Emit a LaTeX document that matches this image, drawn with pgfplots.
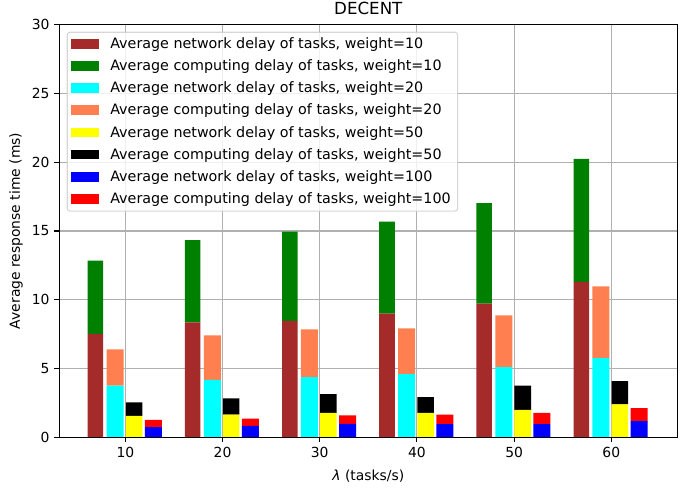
\documentclass[border=0pt]{standalone}
\usepackage{fontspec}
\setmainfont{DejaVu Sans}
\usepackage{pgfplots}
\pgfplotsset{compat=1.18}
\definecolor{cbrown}{HTML}{A52A2A}
\definecolor{cgreen}{HTML}{008000}
\definecolor{ccyan}{HTML}{00FFFF}
\definecolor{ccoral}{HTML}{FF7F50}
\definecolor{cyellow}{HTML}{FFFF00}
\definecolor{cblack}{HTML}{000000}
\definecolor{cblue}{HTML}{0000FF}
\definecolor{cred}{HTML}{FF0000}
\definecolor{gridgray}{HTML}{B0B0B0}
\pgfplotsset{
  base/.style={
    width=445pt, height=297pt, scale only axis,
    xmin=3.2, xmax=66.8, ymin=0, ymax=30,
    /pgf/number format/assume math mode=true,
  },
  hidden/.style={base, hide axis},
}
\begin{document}
\begin{tikzpicture}
\useasboundingbox (-42.7pt,-37.2pt) rectangle (454.1pt,314.8pt);
% weight = 10 (with frame, grid, labels)
\begin{axis}[base,
  ybar stacked, bar width=1.6, bar shift=-3.08,
  axis line style={black, line width=0.8pt},
  grid=major, grid style={gridgray, line width=0.8pt},
  xtick={10,20,30,40,50,60}, ytick={0,5,10,15,20,25,30},
  tick pos=left, tick align=outside,
  major tick length=3.5pt, tick style={black, line width=0.8pt},
  xticklabel style={font=\fontsize{10}{12}\selectfont},
  yticklabel style={font=\fontsize{10}{12}\selectfont},
  every axis title shift=0pt,
  title={DECENT},
  title style={at={(axis description cs:0.5,1)}, anchor=base, yshift=7pt, font=\fontsize{12}{14}\selectfont},
  xlabel={\textit{λ} (tasks/s)},
  xlabel style={at={(axis description cs:0.5,0)}, anchor=center, yshift=-27.9pt, font=\fontsize{10}{12}\selectfont},
  ylabel={Average response time (ms)},
  ylabel style={at={(axis description cs:-0.0701,0.5)}, anchor=center, font=\fontsize{10}{12}\selectfont},
]
\addplot[fill=cbrown, draw=none] coordinates {(10,7.52) (20,8.35) (30,8.47) (40,8.98) (50,9.71) (60,11.29)};
\addplot[fill=cgreen, draw=none] coordinates {(10,5.32) (20,5.98) (30,6.48) (40,6.70) (50,7.31) (60,8.96)};
\end{axis}
% weight = 20
\begin{axis}[hidden, ybar stacked, bar width=1.75, bar shift=-1.06]
\addplot[fill=ccyan, draw=none] coordinates {(10,3.76) (20,4.17) (30,4.37) (40,4.59) (50,5.10) (60,5.75)};
\addplot[fill=ccoral, draw=none] coordinates {(10,2.63) (20,3.24) (30,3.47) (40,3.33) (50,3.76) (60,5.22)};
\end{axis}
% weight = 50
\begin{axis}[hidden, ybar stacked, bar width=1.7, bar shift=0.89]
\addplot[fill=cyellow, draw=none] coordinates {(10,1.55) (20,1.65) (30,1.77) (40,1.77) (50,1.99) (60,2.38)};
\addplot[fill=cblack, draw=none] coordinates {(10,0.98) (20,1.17) (30,1.36) (40,1.14) (50,1.77) (60,1.70)};
\end{axis}
% weight = 100
\begin{axis}[hidden, ybar stacked, bar width=1.75, bar shift=2.87]
\addplot[fill=cblue, draw=none] coordinates {(10,0.73) (20,0.83) (30,0.97) (40,0.95) (50,0.95) (60,1.17)};
\addplot[fill=cred, draw=none] coordinates {(10,0.53) (20,0.53) (30,0.61) (40,0.70) (50,0.82) (60,0.94)};
\end{axis}
% frame on top + legend
\begin{axis}[base,
  xtick=\empty, ytick=\empty,
  axis line style={black, line width=0.8pt},
  legend image code/.code={\fill[#1, fill opacity=1, draw opacity=1, sharp corners] (0pt,-3.3pt) rectangle (20pt,3.7pt);},
  legend cell align=left,
  legend style={at={(axis description cs:0,1)}, anchor=north west,
    xshift=5.3pt, yshift=-5pt,
    draw=black!20, line width=0.8pt, rounded corners=2pt,
    fill=white, fill opacity=0.8, draw opacity=0.8, text opacity=1,
    font=\fontsize{10.3}{12}\selectfont, row sep=2.6pt, column sep=6pt},
]
\addlegendimage{fill=cbrown, draw=none}
\addlegendentry{Average network delay of tasks, weight=10}
\addlegendimage{fill=cgreen, draw=none}
\addlegendentry{Average computing delay of tasks, weight=10}
\addlegendimage{fill=ccyan, draw=none}
\addlegendentry{Average network delay of tasks, weight=20}
\addlegendimage{fill=ccoral, draw=none}
\addlegendentry{Average computing delay of tasks, weight=20}
\addlegendimage{fill=cyellow, draw=none}
\addlegendentry{Average network delay of tasks, weight=50}
\addlegendimage{fill=cblack, draw=none}
\addlegendentry{Average computing delay of tasks, weight=50}
\addlegendimage{fill=cblue, draw=none}
\addlegendentry{Average network delay of tasks, weight=100}
\addlegendimage{fill=cred, draw=none}
\addlegendentry{Average computing delay of tasks, weight=100}
\end{axis}
\end{tikzpicture}
\end{document}
